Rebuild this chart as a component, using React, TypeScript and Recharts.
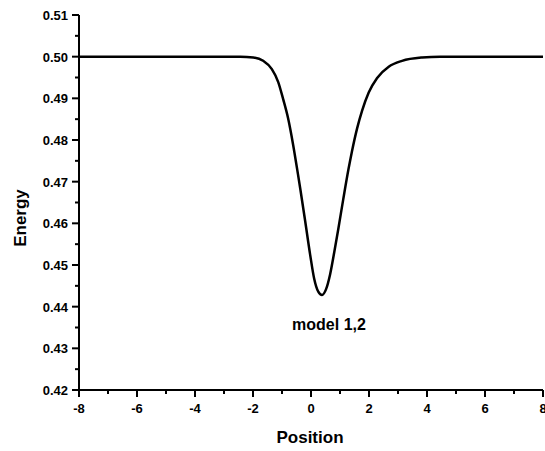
import React from "react";
import { LineChart, Line, XAxis, YAxis, Label } from "recharts";

// positions, with the energy at each
const positions = [
  -8, -6, -4, -3, -2.44, -1.99, -1.65, -1.35, -1.13, -0.96, -0.79, -0.62, -0.45, -0.37,
  -0.2, -0.03, 0.11, 0.25, 0.38, 0.52, 0.66, 0.8, 0.94, 1.11, 1.29, 1.41, 1.59, 1.76, 1.99,
  2.28, 2.68, 3.14, 3.83, 4.46, 6, 8,
];
const energies = [
  0.5, 0.5, 0.5, 0.5, 0.5, 0.4998, 0.499, 0.497, 0.4939, 0.4898, 0.4852, 0.479, 0.4718, 0.4683,
  0.4605, 0.4525, 0.4467, 0.4436, 0.4428, 0.4442, 0.4478, 0.453, 0.4586, 0.4657, 0.4729, 0.4772, 0.4828, 0.487, 0.4914,
  0.4949, 0.4976, 0.499, 0.4998, 0.5, 0.5, 0.5,
];

const xTicks = [-8, -7, -6, -5, -4, -3, -2, -1, 0, 1, 2, 3, 4, 5, 6, 7, 8];
const xMajor = [-8, -6, -4, -2, 0, 2, 4, 6, 8];
const yTicks = [
  0.42, 0.425, 0.43, 0.435, 0.44, 0.445, 0.45, 0.455, 0.46, 0.465, 0.47, 0.475, 0.48, 0.485,
  0.49, 0.495, 0.5, 0.505, 0.51,
];
const yMajor = [0.42, 0.43, 0.44, 0.45, 0.46, 0.47, 0.48, 0.49, 0.5, 0.51];

const data = positions.map((p, i) => ({ x: p, e: energies[i] }));

const FONT = "'Liberation Sans', Arial, sans-serif";
const isIn = (list: number[], v: number) => list.some((m) => Math.abs(m - v) < 1e-6);

const XTick = (props: any) => {
  const { x, y, payload } = props;
  const major = isIn(xMajor, payload.value);
  return (
    <g>
      <line x1={x} x2={x} y1={y} y2={y + (major ? 7 : 4)} stroke="#000" strokeWidth={2} />
      {major && (
        <text x={x} y={y + 23} textAnchor="middle" fontFamily={FONT} fontWeight="bold" fontSize={13} fill="#000">
          {payload.value}
        </text>
      )}
    </g>
  );
};

const YTick = (props: any) => {
  const { x, y, payload } = props;
  const major = isIn(yMajor, payload.value);
  return (
    <g>
      <line x1={x} x2={x - (major ? 7 : 4)} y1={y} y2={y} stroke="#000" strokeWidth={2} />
      {major && (
        <text x={x - 11} y={y + 5} textAnchor="end" fontFamily={FONT} fontWeight="bold" fontSize={13} fill="#000">
          {payload.value.toFixed(2)}
        </text>
      )}
    </g>
  );
};

export default function App() {
  return (
    <div style={{ position: "absolute", left: 0, top: 0, width: 545, height: 451, background: "#fff" }}>
      <LineChart width={545} height={451} data={data} margin={{ top: 15, right: 2, bottom: 0, left: 0 }}>
        <XAxis
          dataKey="x"
          type="number"
          domain={[-8, 8]}
          ticks={xTicks}
          interval={0}
          height={61}
          tickSize={0}
          tickMargin={0}
          tickLine={false}
          tick={<XTick />}
          axisLine={{ stroke: "#000", strokeWidth: 2 }}
        >
          <Label
            content={() => (
              <text x={310} y={443} textAnchor="middle" fontFamily={FONT} fontWeight="bold" fontSize={17} fill="#000">
                Position
              </text>
            )}
          />
        </XAxis>
        <YAxis
          type="number"
          domain={[0.42, 0.51]}
          ticks={yTicks}
          interval={0}
          width={79}
          tickSize={0}
          tickMargin={0}
          tickLine={false}
          tick={<YTick />}
          axisLine={{ stroke: "#000", strokeWidth: 2 }}
        >
          <Label
            content={() => (
              <text
                x={26}
                y={218}
                transform="rotate(-90 26 218)"
                textAnchor="middle"
                fontFamily={FONT}
                fontWeight="bold"
                fontSize={17}
                fill="#000"
              >
                Energy
              </text>
            )}
          />
        </YAxis>
        <Line
          type="monotone"
          dataKey="e"
          stroke="#000"
          strokeWidth={2.5}
          dot={false}
          isAnimationActive={false}
        />
      </LineChart>
      <div
        style={{
          position: "absolute",
          left: 329,
          top: 316,
          transform: "translateX(-50%)",
          fontFamily: FONT,
          fontWeight: "bold",
          fontSize: 16,
          whiteSpace: "nowrap",
          color: "#000",
        }}
      >
        model 1,2
      </div>
    </div>
  );
}
